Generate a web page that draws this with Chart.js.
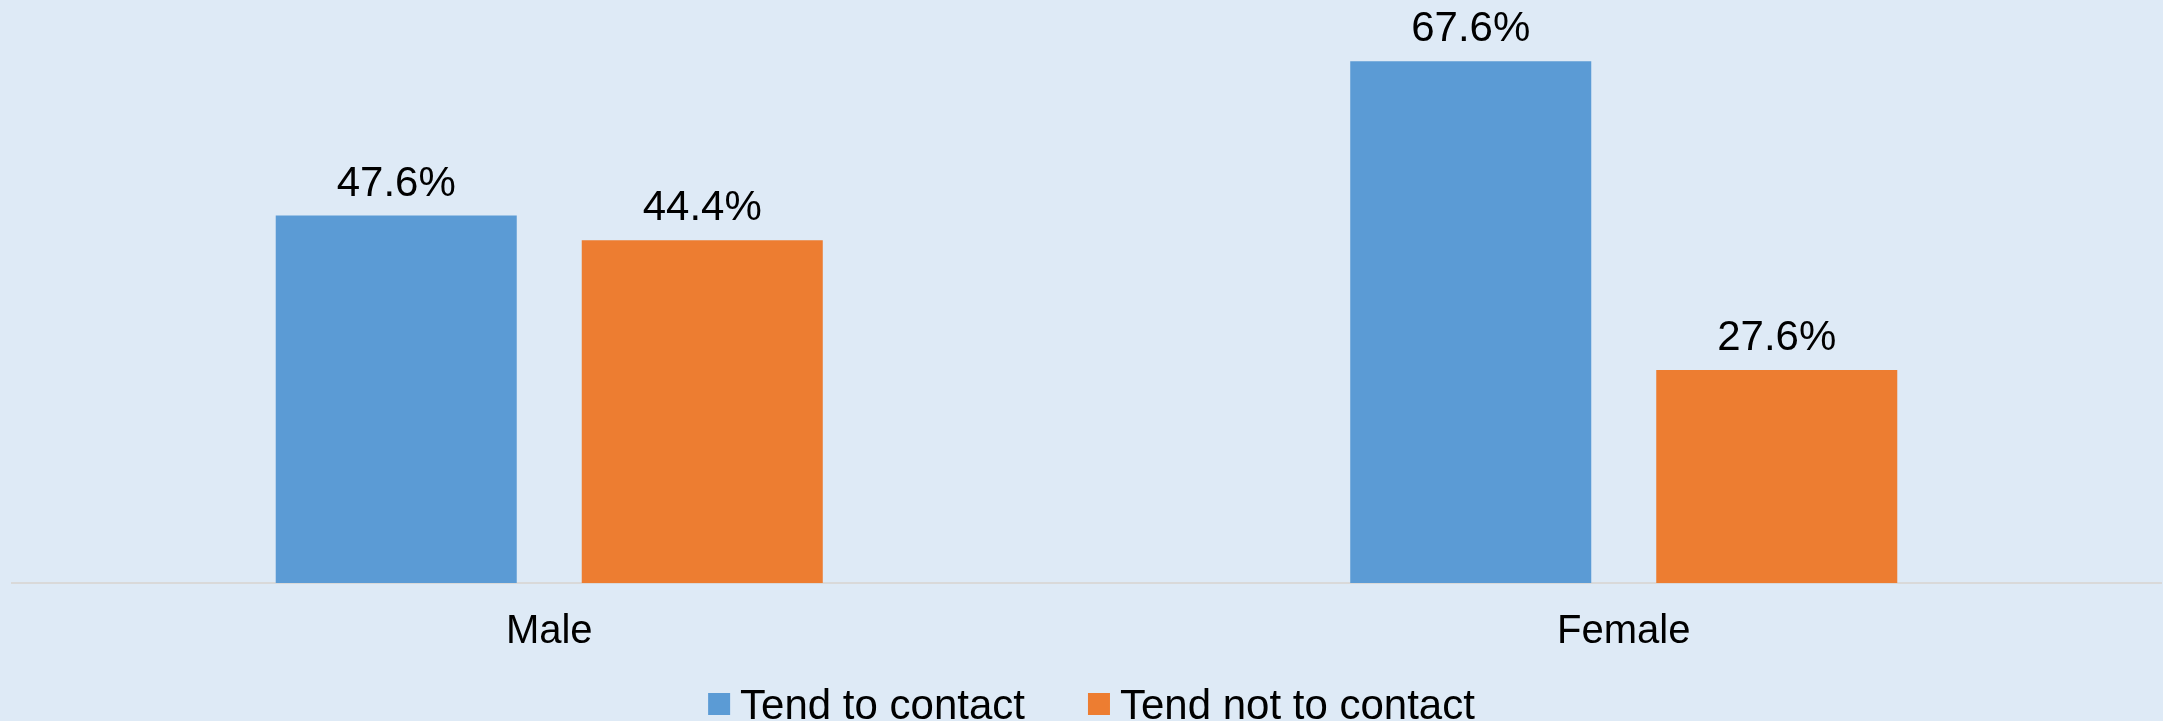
<!DOCTYPE html>
<html>
<head>
<meta charset="utf-8">
<script src="https://cdn.jsdelivr.net/npm/chart.js@4"></script>
<style>
  html, body { margin: 0; padding: 0; background: #DEEAF6; }
  #wrap { width: 2163px; height: 721px; }
</style>
</head>
<body>
<div id="wrap"><canvas id="c" width="2163" height="721"></canvas></div>
<script>
const categories = ["Male", "Female"];
const seriesNames = ["Tend to contact", "Tend not to contact"];
const tendToContact = [47.6, 67.6];
const tendNotToContact = [44.4, 27.6];
const seriesColors = ["#5B9BD5", "#ED7D31"];
const FONT = "'Liberation Sans', Arial, sans-serif";

const dataLabels = {
  id: 'dataLabels',
  afterDatasetsDraw(chart) {
    const ctx = chart.ctx;
    ctx.save();
    ctx.font = "42px " + FONT;
    ctx.fillStyle = "#000";
    ctx.textAlign = "center";
    ctx.textBaseline = "alphabetic";
    chart.data.datasets.forEach((ds, i) => {
      chart.getDatasetMeta(i).data.forEach((bar, j) => {
        ctx.fillText(ds.data[j].toFixed(1) + "%", bar.x, bar.y - 20);
      });
    });
    ctx.restore();
  }
};

const bottomLegend = {
  id: 'bottomLegend',
  afterDraw(chart) {
    const ctx = chart.ctx;
    ctx.save();
    ctx.font = "42px " + FONT;
    const box = 22, gapText = 10, gapItem = 63;
    const items = chart.data.datasets.map(ds => ({ text: ds.label, color: ds.backgroundColor, w: ctx.measureText(ds.label).width }));
    let total = 0;
    items.forEach((it, i) => { total += box + gapText + it.w + (i < items.length - 1 ? gapItem : 0); });
    let x = chart.width / 2 + 10 - total / 2;
    const baseline = chart.height - 2;
    items.forEach(it => {
      ctx.fillStyle = it.color;
      ctx.fillRect(x, baseline - 26, box, box);
      ctx.fillStyle = "#000";
      ctx.textBaseline = "alphabetic";
      ctx.textAlign = "left";
      ctx.fillText(it.text, x + box + gapText, baseline);
      x += box + gapText + it.w + gapItem;
    });
    ctx.restore();
  }
};

new Chart(document.getElementById('c'), {
  type: 'bar',
  data: {
    labels: categories,
    datasets: [
      { label: seriesNames[0], data: tendToContact, backgroundColor: seriesColors[0] },
      { label: seriesNames[1], data: tendNotToContact, backgroundColor: seriesColors[1] }
    ]
  },
  options: {
    responsive: false,
    devicePixelRatio: 1,
    animation: false,
    categoryPercentage: 0.5696,
    barPercentage: 0.7876,
    layout: { padding: { left: 12, right: 2, top: 4, bottom: 40 } },
    plugins: {
      legend: { display: false },
      tooltip: { enabled: false }
    },
    scales: {
      x: {
        grid: { display: false, drawTicks: false },
        border: { display: true, color: "#D9D9D9", width: 2 },
        ticks: { color: "#000", font: { family: FONT, size: 40 }, padding: 25 }
      },
      y: {
        display: false,
        min: 0,
        max: 75
      }
    }
  },
  plugins: [dataLabels, bottomLegend]
});
</script>
</body>
</html>
